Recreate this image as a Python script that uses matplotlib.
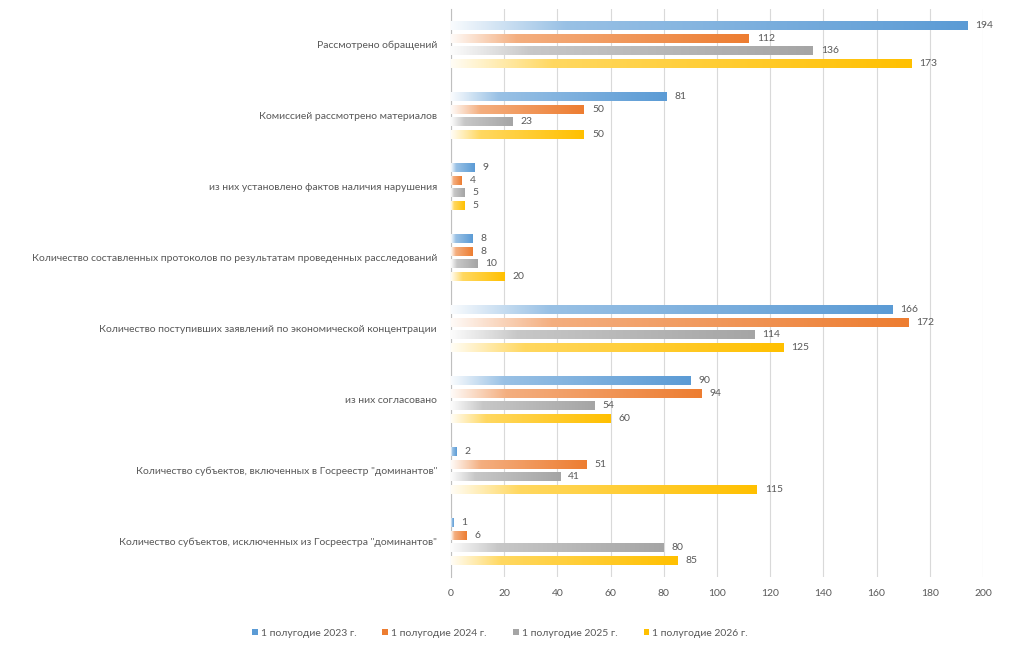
import numpy as np
import matplotlib
matplotlib.use("Agg")
import matplotlib.pyplot as plt
from matplotlib.colors import to_rgb
from matplotlib.patches import Patch

categories = [
    "Рассмотрено обращений",
    "Комиссией рассмотрено материалов",
    "из них установлено фактов наличия нарушения",
    "Количество составленных протоколов по результатам проведенных расследований",
    "Количество поступивших заявлений по экономической концентрации",
    "из них согласовано",
    "Количество субъектов, включенных в Госреестр \"доминантов\"",
    "Количество субъектов, исключенных из Госреестра \"доминантов\"",
]
series_names = ["1 полугодие 2023 г.", "1 полугодие 2024 г.", "1 полугодие 2025 г.", "1 полугодие 2026 г."]
v2023 = [194, 81, 9, 8, 166, 90, 2, 1]
v2024 = [112, 50, 4, 8, 172, 94, 51, 6]
v2025 = [136, 23, 5, 10, 114, 54, 41, 80]
v2026 = [173, 50, 5, 20, 125, 60, 115, 85]
series = [v2023, v2024, v2025, v2026]
colors = ["#5B9BD5", "#ED7D31", "#A5A5A5", "#FFC000"]
xticks = [0, 20, 40, 60, 80, 100, 120, 140, 160, 180, 200]

plt.rcParams['font.family'] = ['Lato', 'DejaVu Sans']
txt = "#595959"

fig = plt.figure(figsize=(10.24, 6.52), dpi=100)
ax = fig.add_axes([451/1024, 1-577/652, 532/1024, 568/652])

step = 0.176
h = 0.12
n = 300
t = np.linspace(0, 1, n)
ramp = np.interp(t, [0.0, 0.22, 1.0], [0.04, 0.62, 1.0])
for si, (vals, col) in enumerate(zip(series, colors)):
    rgb = np.array(to_rgb(col))
    img = (1 - ramp)[:, None] * np.ones(3) + ramp[:, None] * rgb
    img = img[None, :, :]
    for ci, v in enumerate(vals):
        y = ci + (si - 1.5) * step
        ax.imshow(img, extent=[0, v, y + h/2, y - h/2], aspect='auto',
                  interpolation='bilinear', zorder=3)
        ax.text(v + 3, y, str(v), va='center', ha='left', fontsize=7.5, color=txt, zorder=4)

ax.set_xlim(0, 200)
ax.set_ylim(len(categories) - 0.5, -0.5)
ax.set_xticks(xticks)
ax.set_xticklabels([str(x) for x in xticks], fontsize=7.5, color=txt)
ax.set_yticks(range(len(categories)))
ax.set_yticklabels(categories, fontsize=7.5, color=txt)
ax.tick_params(axis='both', length=0)
ax.tick_params(axis='x', pad=9)
ax.tick_params(axis='y', pad=10)
ax.grid(axis='x', color="#D9D9D9", linewidth=0.8, zorder=0)
ax.set_axisbelow(True)
for s in ['top', 'right', 'bottom']:
    ax.spines[s].set_visible(False)
ax.spines['left'].set_color("#BFBFBF")
ax.spines['left'].set_linewidth(0.8)

handles = [Patch(facecolor=c, edgecolor='none') for c in colors]
fig.legend(handles, series_names, loc='center', bbox_to_anchor=(500/1024, 1-633/652),
           ncol=4, frameon=False, fontsize=7.5, handlelength=0.55, handleheight=0.55,
           handletextpad=0.3, columnspacing=2.5, labelcolor=txt)

fig.savefig("out.png", dpi=100)
